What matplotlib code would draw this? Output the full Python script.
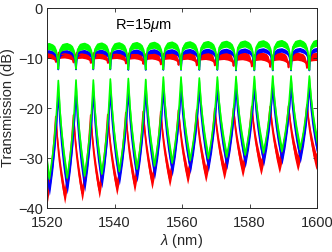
import numpy as np
import matplotlib
matplotlib.use('Agg')
import matplotlib.pyplot as plt

plt.rcParams['font.family'] = ['Liberation Sans', 'DejaVu Sans']
plt.rcParams['mathtext.fontset'] = 'custom'
plt.rcParams['mathtext.it'] = 'Liberation Sans:italic'
plt.rcParams['mathtext.rm'] = 'Liberation Sans'

# Resonance wavelengths (nm)
res_gb = [1518.05, 1523.35, 1528.59, 1533.72, 1538.76, 1544.09, 1549.24, 1554.46, 1559.70,
          1565.12, 1570.46, 1576.00, 1581.42, 1586.87, 1592.30, 1597.72, 1603.2]
res_red = [1517.3, 1522.6, 1527.85, 1532.95, 1538.0, 1543.35, 1548.5, 1553.7, 1558.95,
           1564.35, 1569.7, 1575.25, 1580.65, 1586.1, 1591.55, 1597.0, 1602.45]

# Drop port: peak levels at each resonance (dB)
green_peak = [-14.6, -14.5, -14.4, -14.4, -14.2, -14.1, -14.3, -13.8, -13.8, -14.0, -13.8,
              -13.7, -13.7, -13.6, -13.6, -13.6, -13.6]
blue_peak = [-17.0, -16.9, -16.8, -16.7, -16.6, -16.5, -16.5, -16.3, -16.2, -16.2, -16.0,
             -16.0, -15.9, -15.8, -15.8, -15.7, -15.7]
red_peak = [-21.8, -21.7, -21.4, -21.4, -21.3, -20.9, -20.7, -20.7, -20.4, -20.4, -20.1,
            -20.1, -19.7, -19.7, -19.6, -19.4, -19.4]
# Drop port: trough levels between resonances (dB)
green_trough = [-34.2, -34.0, -33.6, -33.2, -32.7, -32.2, -31.6, -31.0, -30.5, -30.1, -29.8,
                -29.4, -29.0, -28.7, -28.3, -28.1]
blue_trough = [-36.3, -36.0, -35.5, -34.8, -34.2, -33.6, -33.0, -32.4, -31.9, -31.5, -31.1,
               -30.7, -30.4, -30.1, -29.8, -29.6]
red_trough = [-37.8, -37.5, -37.0, -36.4, -35.8, -35.2, -34.6, -34.1, -33.6, -33.2, -32.7,
              -32.2, -31.8, -31.4, -31.0, -30.7]

# Through port: flat levels between resonances and dip levels at resonances (dB)
green_base = [-7.6, -7.6, -7.55, -7.5, -7.45, -7.4, -7.35, -7.3, -7.25, -7.2, -7.15, -7.1,
              -7.05, -7.0, -6.95, -6.9]
blue_base = [-8.8, -8.8, -8.75, -8.7, -8.7, -8.65, -8.6, -8.6, -8.55, -8.5, -8.5, -8.45,
             -8.4, -8.4, -8.35, -8.3]
red_base = [-9.2, -9.2, -9.25, -9.3, -9.3, -9.35, -9.4, -9.4, -9.45, -9.5, -9.5, -9.55,
            -9.6, -9.6, -9.65, -9.7]
green_dip = [-12.2, -12.2, -12.2, -12.2, -12.2, -12.3, -12.3, -12.3, -12.3, -12.3, -12.3,
             -12.4, -12.4, -12.4, -12.4, -12.4, -12.4]
blue_dip = [-12.3, -12.3, -12.3, -12.3, -12.3, -12.4, -12.4, -12.4, -12.4, -12.4, -12.4,
            -12.5, -12.5, -12.5, -12.5, -12.5, -12.5]
red_dip = [-10.8, -10.8, -10.9, -11.0, -11.0, -11.1, -11.2, -11.3, -11.4, -11.5, -11.5,
           -11.6, -11.7, -11.8, -11.9, -12.0, -12.0]

# Shape of one period (position within period, fraction of swing)
period_pos = [0, 0.04, 0.1, 0.2, 0.32, 0.45, 0.5, 0.55, 0.68, 0.8, 0.9, 0.96]
drop_shape = [1, 0.87, 0.68, 0.45, 0.24, 0.06, 0, 0.06, 0.24, 0.45, 0.68, 0.87]
drop_noise = [0.25, 0.45, 0.65, 0.8, 0.95, 1, 1, 1, 0.95, 0.8, 0.65, 0.45]
thru_shape = [1, 0.45, 0.15, 0.05, 0.02, 0, 0, 0.02, 0.06, 0.14, 0.3, 0.6]
thru_noise = [0.15, 0.5, 0.9, 1, 1, 1, 1, 1, 1, 1, 0.85, 0.5]


def build(res, ends, mids, shape, noise, nw):
    xs, ys, hs = [], [], []
    for i in range(len(res) - 1):
        p = res[i + 1] - res[i]
        for u, f, h in zip(period_pos, shape, noise):
            e = ends[i] if u < 0.5 else ends[i + 1]
            xs.append(res[i] + u * p)
            ys.append(mids[i] + (e - mids[i]) * f)
            hs.append(h * nw)
    xs.append(res[-1]); ys.append(ends[-1]); hs.append(noise[0] * nw)
    return np.array(xs), np.array(ys), np.array(hs)


fig = plt.figure(figsize=(3.32, 2.52), dpi=100)
ax = fig.add_axes([0.1416, 0.1746, 0.8134, 0.7936])

RED, BLUE, GREEN = '#ff0000', '#0000ff', '#00ff00'
curves = [
    (res_red, red_dip, red_base, thru_shape, thru_noise, 0.8, RED),
    (res_gb, blue_dip, blue_base, thru_shape, thru_noise, 0.45, BLUE),
    (res_gb, green_dip, green_base, thru_shape, thru_noise, 0.7, GREEN),
    (res_red, red_peak, red_trough, drop_shape, drop_noise, 1.6, RED),
    (res_gb, blue_peak, blue_trough, drop_shape, drop_noise, 1.2, BLUE),
    (res_gb, green_peak, green_trough, drop_shape, drop_noise, 1.2, GREEN),
]
for res, ends, mids, shape, noise, nw, c in curves:
    x, y, h = build(res, ends, mids, shape, noise, nw)
    ax.fill_between(x, y - h, y + h, color=c, lw=0)
    ax.plot(x, y, color=c, lw=1.2)

ax.set_xlim(1520, 1600)
ax.set_ylim(-40, 0)
ax.set_xticks([1520, 1540, 1560, 1580, 1600])
ax.set_yticks([-40, -30, -20, -10, 0])
ax.tick_params(direction='in', top=True, right=True, length=3, width=0.6,
               labelsize=10.5, colors='#262626')
ax.tick_params(axis='x', pad=6)
ax.tick_params(axis='y', pad=3)
for s in ax.spines.values():
    s.set_linewidth(0.7)
    s.set_color('#262626')
ax.set_xlabel(r'$\lambda$ (nm)', fontsize=10.5, color='#262626', labelpad=1)
ax.set_ylabel('Transmission (dB)', fontsize=10.5, color='#262626', labelpad=2)
ax.text(1540.1, -3.4, r'R=15$\mu$m', fontsize=10.5, ha='left', va='center', color='black')

fig.savefig('out.png', dpi=100)
